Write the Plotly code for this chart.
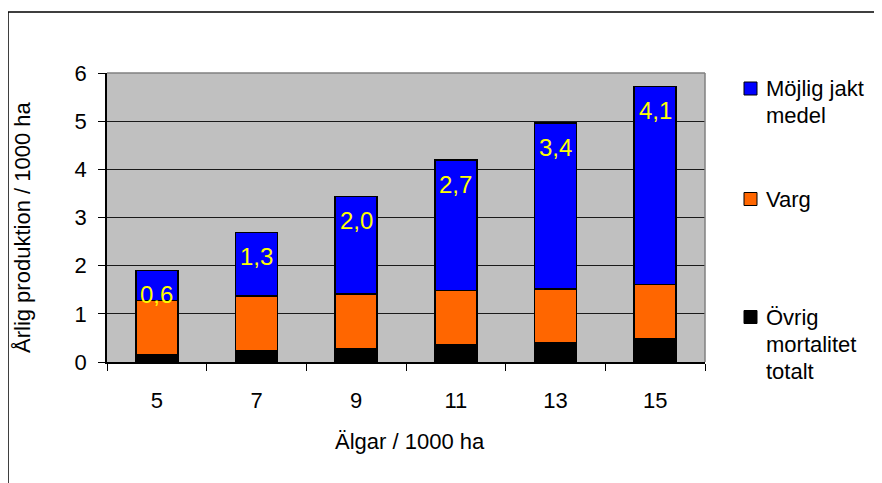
import plotly.graph_objects as go

# ---- data ----
categories = ["5", "7", "9", "11", "13", "15"]
ovrig = [0.16, 0.24, 0.28, 0.36, 0.40, 0.48]
varg = [1.12, 1.13, 1.13, 1.12, 1.12, 1.13]
jakt = [0.62, 1.32, 2.03, 2.71, 3.44, 4.11]
y_ticks = [0, 1, 2, 3, 4, 5, 6]

legend_items = [
    ("Möjlig jakt<br>medel", "#0000FF"),
    ("Varg", "#FF6600"),
    ("Övrig<br>mortalitet<br>totalt", "#000000"),
]

W, H = 882, 483
OFF = 8  # page body margin of the browser
L, R, T, B = 107 - OFF, 705 - OFF, 73 - OFF, 362 - OFF  # plot area in figure pixels


def px(x):
    """screen x pixel -> paper coordinate"""
    return (x - OFF - L) / (R - L)


def py(y):
    """screen y pixel -> paper coordinate"""
    return (B - (y - OFF)) / (B - T)


FONT = "Liberation Sans, Arial, sans-serif"

fig = go.Figure()
fig.add_trace(go.Bar(x=categories, y=ovrig, name="Övrig mortalitet totalt",
                     marker=dict(color="#000000", line=dict(color="#000000", width=1.5))))
fig.add_trace(go.Bar(x=categories, y=varg, name="Varg",
                     marker=dict(color="#FF6600", line=dict(color="#000000", width=1.5))))
fig.add_trace(go.Bar(x=categories, y=jakt, name="Möjlig jakt medel",
                     marker=dict(color="#0000FF", line=dict(color="#000000", width=1.5))))

annotations = []
# data labels on blue segment (x as category index)
for i, (a, b, j) in enumerate(zip(ovrig, varg, jakt)):
    annotations.append(dict(
        x=i, y=a + b + j, xref="x", yref="y",
        text=f"{j:.1f}".replace(".", ","),
        showarrow=False, yanchor="middle", yshift=-24,
        font=dict(family=FONT, size=24, color="#FFFF00")))

# axis titles
annotations.append(dict(x=px(410), y=py(441), xref="paper", yref="paper",
                        text="Älgar / 1000 ha", showarrow=False,
                        xanchor="center", yanchor="middle",
                        font=dict(family=FONT, size=22, color="#000000")))
annotations.append(dict(x=px(22), y=py(228), xref="paper", yref="paper",
                        text="Årlig produktion / 1000 ha", showarrow=False,
                        textangle=-90, xanchor="center", yanchor="middle",
                        font=dict(family=FONT, size=22, color="#000000")))

# manual legend
shapes = []
sq_centers = [88.5, 199, 317]
line_gap = 27.3
for (name, col), cy in zip(legend_items, sq_centers):
    shapes.append(dict(type="rect", xref="paper", yref="paper",
                       x0=px(744), x1=px(757), y0=py(cy + 6.5), y1=py(cy - 6.5),
                       fillcolor=col, line=dict(color="#000000", width=1)))
    for k, line in enumerate(name.split("<br>")):
        annotations.append(dict(x=px(764), y=py(cy + k * line_gap), xref="paper", yref="paper",
                                text=line, showarrow=False, xanchor="left", yanchor="middle",
                                font=dict(family=FONT, size=22, color="#000000")))

# plot area top/right border (grey)
shapes.append(dict(type="line", xref="paper", yref="paper", x0=0, x1=1, y0=1, y1=1,
                   line=dict(color="#808080", width=1.5)))
shapes.append(dict(type="line", xref="paper", yref="paper", x0=1, x1=1, y0=0, y1=1,
                   line=dict(color="#808080", width=1.5)))
# chart border
shapes.append(dict(type="rect", xref="paper", yref="paper",
                   x0=px(8), x1=px(W + 20), y0=py(H + 20), y1=py(12),
                   line=dict(color="#000000", width=1.5), fillcolor="rgba(0,0,0,0)"))

fig.update_layout(
    width=W, height=H,
    margin=dict(l=L, r=W - R, t=T, b=H - B, pad=0, autoexpand=False),
    paper_bgcolor="#FFFFFF",
    plot_bgcolor="#C0C0C0",
    barmode="stack",
    bargap=0.58,
    showlegend=False,
    font=dict(family=FONT, size=22, color="#000000"),
    annotations=annotations,
    shapes=shapes,
    xaxis=dict(type="category", range=[-0.5, len(categories) - 0.5],
               tickson="boundaries", ticks="outside", ticklen=7,
               tickcolor="#000000", showline=True, linecolor="#000000", linewidth=1.5,
               showgrid=False, automargin=False,
               tickfont=dict(family=FONT, size=22, color="#000000"),
               ticklabelstandoff=18),
    yaxis=dict(range=[0, 6], tickvals=y_ticks, ticks="outside", ticklen=7,
               tickcolor="#000000", showline=True, linecolor="#000000", linewidth=1.5,
               showgrid=True, gridcolor="#1a1a1a", gridwidth=1, zeroline=False,
               automargin=False,
               tickfont=dict(family=FONT, size=22, color="#000000"),
               ticklabelstandoff=7),
)

fig.write_html("out.html")
